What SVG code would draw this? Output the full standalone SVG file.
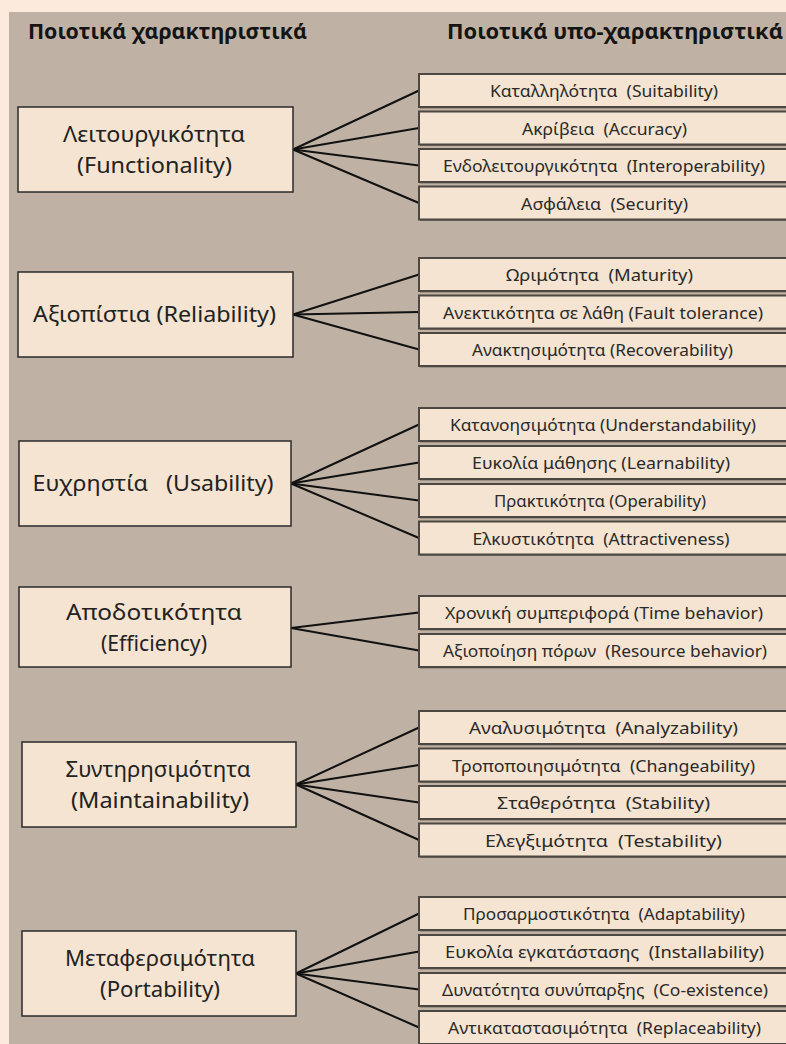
<svg xmlns="http://www.w3.org/2000/svg" width="786" height="1044" viewBox="0 0 786 1044">
  <defs>
    <style>
      .bg { fill: #FCEADC; }
      .panel { fill: #BFB2A4; }
      .main rect { fill: #F4E4D1; stroke: #2a2a2a; stroke-width: 1.5; }
      .sub .sh { fill: #7d746b; }
      .sub .box { fill: #F4E4D1; stroke: #4d4741; stroke-width: 2; }
      .conn line { stroke: #111; stroke-width: 2; stroke-linecap: round; }
      text { font-family: "Noto Sans", "Open Sans", "DejaVu Sans", sans-serif; white-space: pre; }
      .hd { font-size: 21px; font-weight: bold; fill: #141414; }
      .ml { font-size: 21px; fill: #222; text-anchor: middle; }
      .sl { font-size: 15.5px; fill: #2a2a2a; text-anchor: middle; }
    </style>
  </defs>

  <!-- page and panel -->
  <rect class="bg" x="0" y="0" width="786" height="1044"/>
  <rect class="panel" x="9" y="12" width="777" height="1032"/>

  <!-- column headings -->
  <g id="headings">
    <text class="hd" x="28" y="39" textLength="279" lengthAdjust="spacingAndGlyphs">Ποιοτικά χαρακτηριστικά</text>
    <text class="hd" x="447" y="39" textLength="336" lengthAdjust="spacingAndGlyphs">Ποιοτικά υπο-χαρακτηριστικά</text>
  </g>

  <!-- connectors: from each characteristic to its sub-characteristics -->
  <g id="connectors" class="conn">
    <line x1="293" y1="149.5" x2="419" y2="90.5"/>
    <line x1="293" y1="149.5" x2="419" y2="128"/>
    <line x1="293" y1="149.5" x2="419" y2="165.5"/>
    <line x1="293" y1="149.5" x2="419" y2="203"/>

    <line x1="293" y1="314.5" x2="419" y2="274.5"/>
    <line x1="293" y1="314.5" x2="419" y2="312"/>
    <line x1="293" y1="314.5" x2="419" y2="349.5"/>

    <line x1="291" y1="483.5" x2="419" y2="424.5"/>
    <line x1="291" y1="483.5" x2="419" y2="462.5"/>
    <line x1="291" y1="483.5" x2="419" y2="500.5"/>
    <line x1="291" y1="483.5" x2="419" y2="538"/>

    <line x1="291" y1="628" x2="419" y2="612.5"/>
    <line x1="291" y1="628" x2="419" y2="650.5"/>

    <line x1="296" y1="784.5" x2="419" y2="727.5"/>
    <line x1="296" y1="784.5" x2="419" y2="765"/>
    <line x1="296" y1="784.5" x2="419" y2="802.5"/>
    <line x1="296" y1="784.5" x2="419" y2="840"/>

    <line x1="296" y1="973.5" x2="419" y2="913.5"/>
    <line x1="296" y1="973.5" x2="419" y2="951.5"/>
    <line x1="296" y1="973.5" x2="419" y2="989.5"/>
    <line x1="296" y1="973.5" x2="419" y2="1027.5"/>
  </g>

  <!-- characteristics -->
  <g id="functionality" class="main">
    <rect x="18" y="107" width="275" height="85"/>
    <text class="ml" x="154" y="142" textLength="182" lengthAdjust="spacingAndGlyphs">Λειτουργικότητα</text>
    <text class="ml" x="154.5" y="173" textLength="155" lengthAdjust="spacingAndGlyphs">(Functionality)</text>
  </g>
  <g id="reliability" class="main">
    <rect x="18" y="272" width="275" height="85"/>
    <text class="ml" x="154.5" y="322" textLength="243" lengthAdjust="spacingAndGlyphs" xml:space="preserve">Αξιοπίστια (Reliability)</text>
  </g>
  <g id="usability" class="main">
    <rect x="19" y="441" width="272" height="85"/>
    <text class="ml" x="153" y="491" textLength="241" lengthAdjust="spacingAndGlyphs" xml:space="preserve">Ευχρηστία   (Usability)</text>
  </g>
  <g id="efficiency" class="main">
    <rect x="19" y="587" width="272" height="80"/>
    <text class="ml" x="154" y="620" textLength="176" lengthAdjust="spacingAndGlyphs">Αποδοτικότητα</text>
    <text class="ml" x="154" y="651" textLength="106" lengthAdjust="spacingAndGlyphs">(Efficiency)</text>
  </g>
  <g id="maintainability" class="main">
    <rect x="22" y="742" width="274" height="85"/>
    <text class="ml" x="158" y="777" textLength="185" lengthAdjust="spacingAndGlyphs">Συντηρησιμότητα</text>
    <text class="ml" x="160" y="808" textLength="178" lengthAdjust="spacingAndGlyphs">(Maintainability)</text>
  </g>
  <g id="portability" class="main">
    <rect x="22" y="931" width="274" height="85"/>
    <text class="ml" x="160" y="966" textLength="190" lengthAdjust="spacingAndGlyphs">Μεταφερσιμότητα</text>
    <text class="ml" x="160" y="997" textLength="120" lengthAdjust="spacingAndGlyphs">(Portability)</text>
  </g>

  <!-- sub-characteristics -->
  <g id="sub-functionality" class="sub" xml:space="preserve">
    <rect class="sh" x="420" y="75.5" width="380" height="33"/>
    <rect class="box" x="419" y="74" width="380" height="33"/>
    <text class="sl" x="604" y="97" textLength="228" lengthAdjust="spacingAndGlyphs">Καταλληλότητα  (Suitability)</text>
    <rect class="sh" x="420" y="113" width="380" height="33"/>
    <rect class="box" x="419" y="111.5" width="380" height="33"/>
    <text class="sl" x="604.5" y="134.5" textLength="165" lengthAdjust="spacingAndGlyphs">Ακρίβεια  (Accuracy)</text>
    <rect class="sh" x="420" y="150.5" width="380" height="33"/>
    <rect class="box" x="419" y="149" width="380" height="33"/>
    <text class="sl" x="604" y="172" textLength="322" lengthAdjust="spacingAndGlyphs">Ενδολειτουργικότητα  (Interoperability)</text>
    <rect class="sh" x="420" y="188" width="380" height="33"/>
    <rect class="box" x="419" y="186.5" width="380" height="33"/>
    <text class="sl" x="604.5" y="209.5" textLength="167" lengthAdjust="spacingAndGlyphs">Ασφάλεια  (Security)</text>
  </g>

  <g id="sub-reliability" class="sub" xml:space="preserve">
    <rect class="sh" x="420" y="259.5" width="380" height="33"/>
    <rect class="box" x="419" y="258" width="380" height="33"/>
    <text class="sl" x="599.5" y="281" textLength="187" lengthAdjust="spacingAndGlyphs">Ωριμότητα  (Maturity)</text>
    <rect class="sh" x="420" y="297" width="380" height="33"/>
    <rect class="box" x="419" y="295.5" width="380" height="33"/>
    <text class="sl" x="603" y="318.5" textLength="320" lengthAdjust="spacingAndGlyphs">Ανεκτικότητα σε λάθη (Fault tolerance)</text>
    <rect class="sh" x="420" y="334.5" width="380" height="33"/>
    <rect class="box" x="419" y="333" width="380" height="33"/>
    <text class="sl" x="602.5" y="356" textLength="261" lengthAdjust="spacingAndGlyphs">Ανακτησιμότητα (Recoverability)</text>
  </g>

  <g id="sub-usability" class="sub" xml:space="preserve">
    <rect class="sh" x="420" y="409.5" width="380" height="33"/>
    <rect class="box" x="419" y="408" width="380" height="33"/>
    <text class="sl" x="603" y="431" textLength="306" lengthAdjust="spacingAndGlyphs">Κατανοησιμότητα (Understandability)</text>
    <rect class="sh" x="420" y="447.5" width="380" height="33"/>
    <rect class="box" x="419" y="446" width="380" height="33"/>
    <text class="sl" x="601" y="469" textLength="258" lengthAdjust="spacingAndGlyphs">Ευκολία μάθησης (Learnability)</text>
    <rect class="sh" x="420" y="485.5" width="380" height="33"/>
    <rect class="box" x="419" y="484" width="380" height="33"/>
    <text class="sl" x="600" y="507" textLength="212" lengthAdjust="spacingAndGlyphs">Πρακτικότητα (Operability)</text>
    <rect class="sh" x="420" y="523" width="380" height="33"/>
    <rect class="box" x="419" y="521.5" width="380" height="33"/>
    <text class="sl" x="601" y="544.5" textLength="257" lengthAdjust="spacingAndGlyphs">Ελκυστικότητα  (Attractiveness)</text>
  </g>

  <g id="sub-efficiency" class="sub" xml:space="preserve">
    <rect class="sh" x="420" y="597.5" width="380" height="33"/>
    <rect class="box" x="419" y="596" width="380" height="33"/>
    <text class="sl" x="604" y="619" textLength="318" lengthAdjust="spacingAndGlyphs">Χρονική συμπεριφορά (Time behavior)</text>
    <rect class="sh" x="420" y="635.5" width="380" height="33"/>
    <rect class="box" x="419" y="634" width="380" height="33"/>
    <text class="sl" x="605" y="657" textLength="324" lengthAdjust="spacingAndGlyphs">Αξιοποίηση πόρων  (Resource behavior)</text>
  </g>

  <g id="sub-maintainability" class="sub" xml:space="preserve">
    <rect class="sh" x="420" y="712.5" width="380" height="33"/>
    <rect class="box" x="419" y="711" width="380" height="33"/>
    <text class="sl" x="603.5" y="734" textLength="269" lengthAdjust="spacingAndGlyphs">Αναλυσιμότητα  (Analyzability)</text>
    <rect class="sh" x="420" y="750" width="380" height="33"/>
    <rect class="box" x="419" y="748.5" width="380" height="33"/>
    <text class="sl" x="603.5" y="771.5" textLength="303" lengthAdjust="spacingAndGlyphs">Τροποποιησιμότητα  (Changeability)</text>
    <rect class="sh" x="420" y="787.5" width="380" height="33"/>
    <rect class="box" x="419" y="786" width="380" height="33"/>
    <text class="sl" x="603.5" y="809" textLength="213" lengthAdjust="spacingAndGlyphs">Σταθερότητα  (Stability)</text>
    <rect class="sh" x="420" y="825" width="380" height="33"/>
    <rect class="box" x="419" y="823.5" width="380" height="33"/>
    <text class="sl" x="603.5" y="846.5" textLength="237" lengthAdjust="spacingAndGlyphs">Ελεγξιμότητα  (Testability)</text>
  </g>

  <g id="sub-portability" class="sub" xml:space="preserve">
    <rect class="sh" x="420" y="898.5" width="380" height="33"/>
    <rect class="box" x="419" y="897" width="380" height="33"/>
    <text class="sl" x="604" y="920" textLength="282" lengthAdjust="spacingAndGlyphs">Προσαρμοστικότητα  (Adaptability)</text>
    <rect class="sh" x="420" y="936.5" width="380" height="33"/>
    <rect class="box" x="419" y="935" width="380" height="33"/>
    <text class="sl" x="604.5" y="958" textLength="319" lengthAdjust="spacingAndGlyphs">Ευκολία εγκατάστασης  (Installability)</text>
    <rect class="sh" x="420" y="974.5" width="380" height="33"/>
    <rect class="box" x="419" y="973" width="380" height="33"/>
    <text class="sl" x="605" y="996" textLength="326" lengthAdjust="spacingAndGlyphs">Δυνατότητα συνύπαρξης  (Co-existence)</text>
    <rect class="sh" x="420" y="1012.5" width="380" height="33"/>
    <rect class="box" x="419" y="1011" width="380" height="33"/>
    <text class="sl" x="604.5" y="1034" textLength="313" lengthAdjust="spacingAndGlyphs">Αντικαταστασιμότητα  (Replaceability)</text>
  </g>
</svg>
